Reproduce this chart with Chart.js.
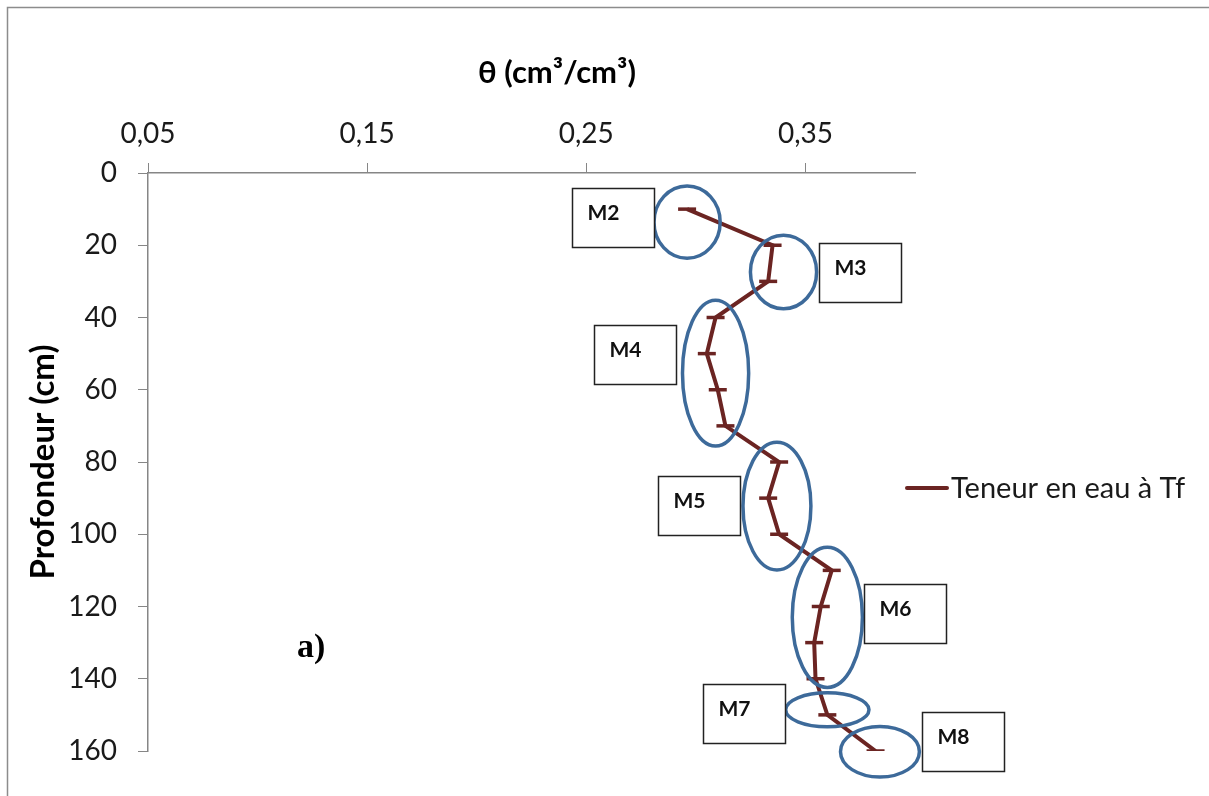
<!DOCTYPE html>
<html>
<head>
<meta charset="utf-8">
<script src="https://cdn.jsdelivr.net/npm/chart.js@4.4.1/dist/chart.umd.min.js"></script>
<style>
  body { margin: 0; background: #fff; }
  canvas { display: block; }
</style>
</head>
<body>
<canvas id="profile-chart" width="1209" height="796"></canvas>
<script>
// Profondeur (cm) and water content at Tf
const depths = [10, 20, 30, 40, 50, 60, 70, 80, 90, 100, 110, 120, 130, 140, 150, 160];
const theta = [0.296, 0.335, 0.333, 0.309, 0.305, 0.310, 0.3135, 0.338, 0.333, 0.338, 0.362, 0.357, 0.354, 0.3546, 0.360, 0.382];
const xTicks = [0.05, 0.15, 0.25, 0.35];
const seriesName = 'Teneur en eau à Tf';

// circled zones (centre + half sizes, in data units)
const zoneNames = ['M2', 'M3', 'M4', 'M5', 'M6', 'M7', 'M8'];
const zoneTheta = [0.296, 0.340, 0.309, 0.337, 0.360, 0.360, 0.384];
const zoneDepth = [13.6, 27.4, 55.4, 92.2, 123, 148.6, 160.2];
const zoneHalfTheta = [0.0151, 0.0151, 0.0151, 0.0155, 0.016, 0.019, 0.018];
const zoneHalfDepth = [10, 10.2, 20.2, 17.7, 19.4, 4.7, 7];
// top-left corner of each label box (data units)
const boxTheta = [0.2436, 0.3564, 0.2537, 0.2829, 0.3769, 0.3034, 0.403];
const boxDepth = [4.15, 19.4, 42.1, 83.9, 113.8, 141.5, 149.2];

const lineColor = '#6B2422';
const zoneColor = '#3D6A9A';
const axisColor = '#868686';

Chart.defaults.font.family = 'Lato, "Open Sans", sans-serif';
Chart.defaults.color = '#1a1a1a';

const decorations = {
  id: 'decorations',
  beforeDraw(chart) {
    const ctx = chart.ctx;
    ctx.save();
    ctx.fillStyle = '#fff';
    ctx.fillRect(0, 0, chart.width, chart.height);
    ctx.strokeStyle = '#8c8c8c';
    ctx.lineWidth = 1.5;
    ctx.strokeRect(7.5, 7.5, chart.width + 20, chart.height + 20);
    ctx.restore();
  },
  afterDatasetsDraw(chart) {
    const { ctx, scales: { x, y } } = chart;
    ctx.save();

    // ellipses around the zones
    ctx.strokeStyle = zoneColor;
    ctx.lineWidth = 3.5;
    zoneNames.forEach((name, i) => {
      const cx = x.getPixelForValue(zoneTheta[i]);
      const cy = y.getPixelForValue(zoneDepth[i]);
      const rx = Math.abs(x.getPixelForValue(zoneTheta[i] + zoneHalfTheta[i]) - cx);
      const ry = Math.abs(y.getPixelForValue(zoneDepth[i] + zoneHalfDepth[i]) - cy);
      ctx.beginPath();
      ctx.ellipse(cx, cy, rx, ry, 0, 0, Math.PI * 2);
      ctx.stroke();
    });

    // label boxes
    ctx.font = 'bold 21px Lato, sans-serif';
    ctx.textBaseline = 'middle';
    ctx.textAlign = 'left';
    zoneNames.forEach((name, i) => {
      const bx = Math.round(x.getPixelForValue(boxTheta[i])) + 0.5;
      const by = Math.round(y.getPixelForValue(boxDepth[i])) + 0.5;
      ctx.fillStyle = '#fff';
      ctx.fillRect(bx, by, 82, 59);
      ctx.strokeStyle = '#222';
      ctx.lineWidth = 1.5;
      ctx.strokeRect(bx, by, 82, 59);
      ctx.fillStyle = '#111';
      ctx.fillText(name, bx + 15, by + 25);
    });

    // panel letter
    ctx.font = 'bold 34px "Liberation Serif", serif';
    ctx.textAlign = 'center';
    ctx.fillStyle = '#000';
    ctx.fillText('a)', x.getPixelForValue(0.1244), y.getPixelForValue(131.5));

    // x axis title
    ctx.font = 'bold 31px Lato, sans-serif';
    ctx.fillText('θ (cm³/cm³)', 557, 73);

    // legend
    ctx.strokeStyle = lineColor;
    ctx.lineWidth = 4;
    ctx.lineCap = 'round';
    ctx.beginPath();
    ctx.moveTo(907, 488);
    ctx.lineTo(947, 488);
    ctx.stroke();
    ctx.font = '29px Lato, sans-serif';
    ctx.textAlign = 'left';
    ctx.fillStyle = '#1a1a1a';
    ctx.fillText(seriesName, 951, 489);

    ctx.restore();
  }
};

new Chart(document.getElementById('profile-chart'), {
  type: 'scatter',
  data: {
    datasets: [{
      label: seriesName,
      data: depths.map((d, i) => ({ x: theta[i], y: d })),
      showLine: true,
      borderColor: lineColor,
      borderWidth: 4,
      pointStyle: 'line',
      pointRadius: 9,
      pointBorderWidth: 3.5,
      pointBorderColor: lineColor,
      tension: 0
    }]
  },
  options: {
    responsive: false,
    animation: false,
    layout: { padding: { left: 0, top: 0, right: 294, bottom: 45 } },
    plugins: {
      legend: { display: false },
      tooltip: { enabled: false }
    },
    scales: {
      x: {
        type: 'linear',
        position: 'top',
        min: 0.05,
        max: 0.40,
        afterBuildTicks: (scale) => {
          scale.ticks = xTicks.map(v => ({ value: v }));
        },
        afterFit: (scale) => { scale.height = 173; },
        ticks: {
          font: { size: 28 },
          padding: 12,
          maxRotation: 0,
          callback: (v) => v.toFixed(2).replace('.', ',')
        },
        grid: { drawOnChartArea: false, drawTicks: true, tickLength: 10, color: axisColor },
        border: { display: true, color: axisColor, width: 1.5 }
      },
      y: {
        type: 'linear',
        reverse: true,
        min: 0,
        max: 160,
        afterFit: (scale) => { scale.width = 148; },
        ticks: {
          stepSize: 20,
          font: { size: 28 },
          padding: 21
        },
        title: {
          display: true,
          text: 'Profondeur (cm)',
          font: { size: 33, weight: 'bold' },
          color: '#000',
          padding: { top: 24, bottom: 0 }
        },
        grid: { drawOnChartArea: false, drawTicks: true, tickLength: 10, color: axisColor },
        border: { display: true, color: axisColor, width: 1.5 }
      }
    }
  },
  plugins: [decorations]
});
</script>
</body>
</html>
